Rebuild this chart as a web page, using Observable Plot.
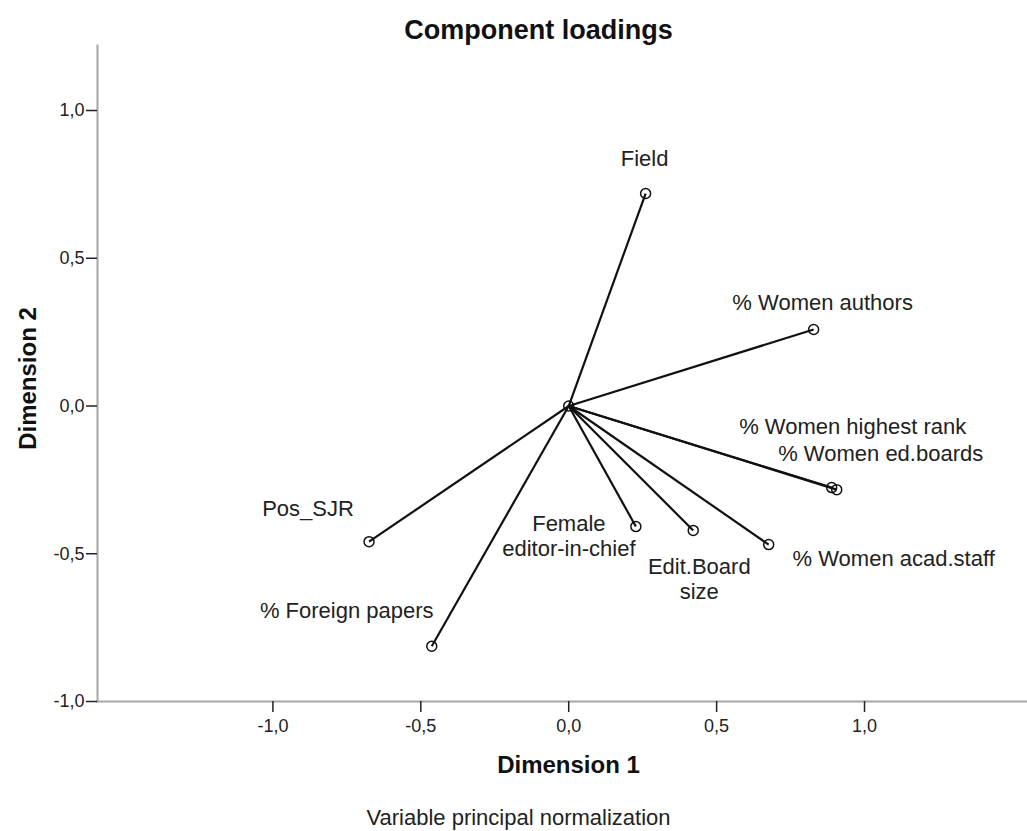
<!DOCTYPE html>
<html>
<head>
<meta charset="utf-8">
<script src="https://cdn.jsdelivr.net/npm/d3@7"></script>
<script src="https://cdn.jsdelivr.net/npm/@observablehq/plot@0.6"></script>
<style>
  html, body { margin: 0; padding: 0; background: #fff; }
  svg { font-family: "Liberation Sans", Arial, sans-serif; }
</style>
</head>
<body>
<div id="chart"></div>
<script>
// Data
const variables = ["Field", "% Women authors", "% Women highest rank", "% Women ed.boards", "% Women acad.staff", "Edit.Board\nsize", "Female\neditor-in-chief", "Pos_SJR", "% Foreign papers"];
const dim1 = [0.260, 0.828, 0.889, 0.906, 0.676, 0.421, 0.227, -0.675, -0.463];
const dim2 = [0.719, 0.259, -0.276, -0.283, -0.469, -0.421, -0.408, -0.459, -0.813];
// label offsets from the point, in pixels
const labelDx = [-1, 9, 21, 44, 125, 6, -67, -61, -85];
const labelDy = [-36, -28, -62, -37, 13, 48, 9, -34, -36];
const tickValues = [-1, -0.5, 0, 0.5, 1];

const W = 1027, H = 831;
const mL = 97, mR = 0, mT = 45, mB = 130;
const xDomain = [-1.593, 1.551];
const yDomain = [-1.0, 1.22];
const kx = (W - mL - mR) / (xDomain[1] - xDomain[0]);
const ky = (H - mT - mB) / (yDomain[1] - yDomain[0]);

const data = variables.map((v, i) => ({
  name: v, x: dim1[i], y: dim2[i],
  lx: dim1[i] + labelDx[i] / kx,
  ly: dim2[i] - labelDy[i] / ky
}));

const fmt = d => d.toFixed(1).replace(".", ",");
const frameCx = mL + (W - mL - mR) / 2;
const frameCy = mT + (H - mT - mB) / 2;

const chart = Plot.plot({
  width: W, height: H,
  marginLeft: mL, marginRight: mR, marginTop: mT, marginBottom: mB,
  x: {domain: xDomain},
  y: {domain: yDomain},
  style: {fontFamily: '"Liberation Sans", Arial, sans-serif', background: "#fff", color: "#222"},
  marks: [
    Plot.frame({anchor: "bottom", stroke: "#a6a6a6", strokeWidth: 2}),
    Plot.frame({anchor: "left", stroke: "#a6a6a6", strokeWidth: 2}),
    Plot.axisX({ticks: tickValues, tickFormat: fmt, tickSize: 11, tickPadding: 7, fontSize: 18, label: null, stroke: "#222", strokeWidth: 1.5}),
    Plot.axisY({ticks: tickValues, tickFormat: fmt, tickSize: 11, tickPadding: 2, fontSize: 18, label: null, stroke: "#222", strokeWidth: 1.5}),
    Plot.link(data, {x1: 0, y1: 0, x2: "x", y2: "y", stroke: "#111", strokeWidth: 2.2}),
    Plot.dot([{x: 0, y: 0}], {x: "x", y: "y", r: 5, stroke: "#111", strokeWidth: 1.5, fill: "none"}),
    Plot.dot(data, {x: "x", y: "y", r: 5, stroke: "#111", strokeWidth: 1.5, fill: "none"}),
    Plot.text(data, {x: "lx", y: "ly", text: "name", fontSize: 22, fill: "#222", lineHeight: 1.15, textAnchor: "middle", lineAnchor: "middle"}),
    Plot.text(["Component loadings"], {frameAnchor: "top", dx: 538 - frameCx, dy: 30 - mT, fontSize: 27, fontWeight: "bold", fill: "#111", lineAnchor: "middle"}),
    Plot.text(["Dimension 1"], {frameAnchor: "bottom", dx: 568 - frameCx, dy: 765 - (H - mB), fontSize: 24, fontWeight: "bold", fill: "#111", lineAnchor: "middle"}),
    Plot.text(["Variable principal normalization"], {frameAnchor: "bottom", dx: 518 - frameCx, dy: 817 - (H - mB), fontSize: 22, fill: "#222", lineAnchor: "middle"}),
    Plot.text(["Dimension 2"], {frameAnchor: "left", dx: 28 - mL, dy: 378 - frameCy, rotate: -90, fontSize: 24, fontWeight: "bold", fill: "#111", textAnchor: "middle", lineAnchor: "middle"})
  ]
});
document.getElementById("chart").appendChild(chart);
</script>
</body>
</html>
